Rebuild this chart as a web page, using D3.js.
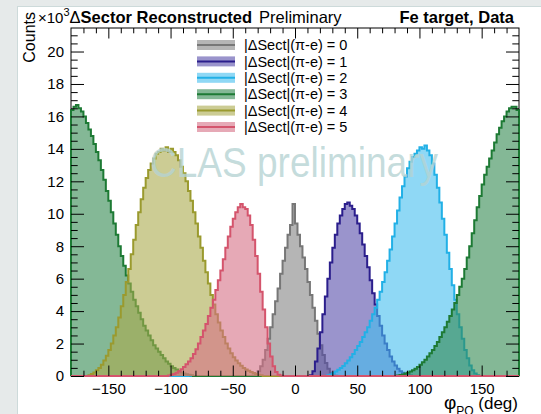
<!DOCTYPE html>
<style type="text/css">
body {
    margin: 0;
    background: #e6eaea;
}
svg text {
    font-family: 'Liberation Sans', Arial, sans-serif;
}
</style>

<body>
    <script src="https://d3js.org/d3.v7.min.js"></script>
    <script>
    // phi_PQ histograms, 2 deg bins, counts in 10^3
    var binWidth = 2
    var sectLabels = ['|ΔSect|(π-e) = 0', '|ΔSect|(π-e) = 1', '|ΔSect|(π-e) = 2', '|ΔSect|(π-e) = 3', '|ΔSect|(π-e) = 4', '|ΔSect|(π-e) = 5']
    var xTicks = [-150, -100, -50, 0, 50, 100, 150]
    var yTicks = [0, 2, 4, 6, 8, 10, 12, 14, 16, 18, 20]

    var sect0Start = -34
    var sect0 = [0.03, 0.1, 0.3, 0.6, 1.0, 1.6, 2.3, 3.0, 3.8, 4.6, 5.4, 6.3, 7.1, 7.9, 8.7, 9.3, 10.6, 9.4, 8.7, 8.0, 7.3, 6.6, 5.8, 5.0, 4.2, 3.4, 2.6, 1.9, 1.3, 0.8, 0.45, 0.2, 0.08, 0.03]
    var sect1Start = 12
    var sect1 = [0.05, 0.3, 0.9, 1.7, 2.7, 3.8, 4.9, 6.0, 7.0, 7.9, 8.7, 9.4, 9.9, 10.3, 10.6, 10.7, 10.5, 10.3, 9.9, 9.4, 8.8, 8.1, 7.4, 6.7, 5.9, 5.1, 4.4, 3.7, 3.1, 2.5, 2.0, 1.6, 1.2, 0.9, 0.65, 0.45, 0.3, 0.2, 0.12, 0.06, 0.03]
    var sect2Start = 26
    var sect2 = [0.04, 0.1, 0.18, 0.28, 0.38, 0.5, 0.62, 0.78, 0.95, 1.15, 1.35, 1.6, 1.85, 2.1, 2.4, 2.7, 3.0, 3.4, 3.8, 4.2, 4.7, 5.2, 5.8, 6.4, 7.1, 7.8, 8.6, 9.4, 10.2, 11.0, 11.7, 12.3, 12.8, 13.2, 13.5, 13.7, 13.9, 14.1, 14.0, 14.2, 13.9, 13.6, 13.1, 12.4, 11.6, 10.7, 9.7, 8.7, 7.6, 6.6, 5.6, 4.7, 3.8, 3.0, 2.3, 1.6, 1.1, 0.65, 0.35, 0.15, 0.05]
    var sect3LeftStart = -180
    var sect3Left = [16.4, 16.6, 16.7, 16.5, 16.3, 16.0, 15.6, 15.2, 14.8, 14.3, 13.8, 13.3, 12.7, 12.1, 11.4, 10.8, 10.1, 9.4, 8.7, 8.0, 7.4, 6.8, 6.2, 5.7, 5.2, 4.7, 4.3, 3.9, 3.5, 3.1, 2.8, 2.5, 2.2, 1.9, 1.7, 1.5, 1.3, 1.1, 0.9, 0.75, 0.6, 0.5, 0.4, 0.3, 0.22, 0.16, 0.11, 0.07, 0.04]
    var sect3RightStart = 82
    var sect3Right = [0.03, 0.06, 0.1, 0.15, 0.2, 0.28, 0.36, 0.45, 0.56, 0.7, 0.85, 1.0, 1.2, 1.4, 1.6, 1.85, 2.1, 2.4, 2.7, 3.0, 3.35, 3.7, 4.1, 4.5, 5.0, 5.5, 6.0, 6.6, 7.3, 8.0, 8.8, 9.6, 10.4, 11.1, 11.8, 12.4, 12.9, 13.4, 13.9, 14.4, 14.9, 15.3, 15.7, 16.0, 16.3, 16.5, 16.6, 16.6, 16.4]
    var sect4Start = -166
    var sect4 = [0.05, 0.12, 0.22, 0.35, 0.5, 0.7, 0.95, 1.25, 1.6, 2.0, 2.5, 3.0, 3.6, 4.3, 5.0, 5.8, 6.6, 7.5, 8.4, 9.3, 10.1, 10.9, 11.6, 12.2, 12.7, 13.1, 13.4, 13.7, 13.8, 14.0, 13.9, 14.1, 13.8, 14.0, 13.8, 13.6, 13.3, 12.9, 12.5, 12.0, 11.4, 10.8, 10.1, 9.4, 8.6, 7.9, 7.1, 6.4, 5.7, 5.0, 4.4, 3.8, 3.3, 2.8, 2.4, 2.0, 1.7, 1.4, 1.15, 0.95, 0.78, 0.63, 0.5, 0.4, 0.32, 0.25, 0.18, 0.12, 0.08, 0.04]
    var sect5Start = -102
    var sect5 = [0.03, 0.07, 0.12, 0.2, 0.3, 0.42, 0.56, 0.72, 0.9, 1.1, 1.35, 1.65, 2.0, 2.4, 2.8, 3.2, 3.7, 4.2, 4.7, 5.3, 5.9, 6.5, 7.2, 7.9, 8.6, 9.2, 9.7, 10.1, 10.4, 10.6, 10.4, 10.3, 9.9, 9.3, 8.4, 7.4, 6.3, 5.2, 4.1, 3.0, 2.0, 1.2, 0.6, 0.25, 0.08, 0.03]

    var lineColors = ['#777777', '#2b1e8c', '#22b0e6', '#1d7a34', '#9a9a2e', '#d4546c']
    var fillColors = ['#848484', '#574daa', '#44beee', '#328950', '#aaaa4d', '#d57085']

    function fullHist(segs) {
        var n = 360 / binWidth
        var arr = new Array(n).fill(0)
        segs.forEach(function(s) {
            s[1].forEach(function(v, j) { arr[(s[0] + 180) / binWidth + j] = v })
        })
        return arr
    }

    var hists = [
        fullHist([[sect0Start, sect0]]),
        fullHist([[sect1Start, sect1]]),
        fullHist([[sect2Start, sect2]]),
        fullHist([[sect3LeftStart, sect3Left], [sect3RightStart, sect3Right]]),
        fullHist([[sect4Start, sect4]]),
        fullHist([[sect5Start, sect5]])
    ]

    var width = 541, height = 414
    var x = d3.scaleLinear().domain([-180, 180]).range([71, 519])
    var y = d3.scaleLinear().domain([0, 21.45]).range([376, 28])

    var svg = d3.select('body').append('svg')
        .attr('width', width)
        .attr('height', height)
        .style('display', 'block')

    svg.append('rect').attr('width', width).attr('height', height).attr('fill', '#e6eaea')
    svg.append('rect').attr('x', 17.5).attr('y', 6.5).attr('width', width).attr('height', height)
        .attr('fill', '#fff').attr('stroke', '#cddada')

    svg.append('rect')
        .attr('x', x(-180)).attr('y', y.range()[1])
        .attr('width', x(180) - x(-180)).attr('height', y(0) - y.range()[1])
        .attr('fill', 'none').attr('stroke', '#000').attr('stroke-width', 1)

    function steps(arr) {
        var pts = [[-180, 0]]
        arr.forEach(function(v, i) {
            var e = -180 + i * binWidth
            pts.push([e, v], [e + binWidth, v])
        })
        pts.push([180, 0])
        return pts
    }

    var area = d3.area().x(d => x(d[0])).y0(y(0)).y1(d => y(d[1]))
    var line = d3.line().x(d => x(d[0])).y(d => y(d[1]))

    hists.forEach(function(h, i) {
        var pts = steps(h)
        svg.append('path').attr('d', area(pts))
            .attr('fill', fillColors[i]).attr('fill-opacity', 0.6)
        svg.append('path').attr('d', line(pts))
            .attr('fill', 'none').attr('stroke', lineColors[i]).attr('stroke-width', 2)
    })

    svg.append('text')
        .attr('x', 150).attr('y', 177)
        .attr('textLength', 288).attr('lengthAdjust', 'spacingAndGlyphs')
        .attr('font-size', 43)
        .attr('fill', '#b5d3d3').attr('fill-opacity', 0.78)
        .text('CLAS preliminary')

    // axes, ticks inward like ROOT
    var xMinor = d3.range(-170, 180, 10).filter(d => xTicks.indexOf(d) < 0)
    var yMinor = d3.range(0.5, 21.45, 0.5).filter(d => yTicks.indexOf(d) < 0)

    function noDomain(g) { g.select('.domain').remove() }

    svg.append('g').attr('transform', 'translate(0,' + y(0) + ')')
        .call(d3.axisBottom(x).tickValues(xTicks).tickSize(-10.5).tickPadding(7))
        .call(noDomain)
    svg.append('g').attr('transform', 'translate(0,' + y(0) + ')')
        .call(d3.axisBottom(x).tickValues(xMinor).tickSize(-5.3).tickFormat(''))
        .call(noDomain)
    svg.append('g').attr('transform', 'translate(0,' + y.range()[1] + ')')
        .call(d3.axisTop(x).tickValues(xTicks).tickSize(-10.5).tickFormat(''))
        .call(noDomain)
    svg.append('g').attr('transform', 'translate(0,' + y.range()[1] + ')')
        .call(d3.axisTop(x).tickValues(xMinor).tickSize(-5.3).tickFormat(''))
        .call(noDomain)

    svg.append('g').attr('transform', 'translate(' + x(-180) + ',0)')
        .call(d3.axisLeft(y).tickValues(yTicks).tickSize(-13).tickPadding(7))
        .call(noDomain)
    svg.append('g').attr('transform', 'translate(' + x(-180) + ',0)')
        .call(d3.axisLeft(y).tickValues(yMinor).tickSize(-6.7).tickFormat(''))
        .call(noDomain)
    svg.append('g').attr('transform', 'translate(' + x(180) + ',0)')
        .call(d3.axisRight(y).tickValues(yTicks).tickSize(-13).tickFormat(''))
        .call(noDomain)
    svg.append('g').attr('transform', 'translate(' + x(180) + ',0)')
        .call(d3.axisRight(y).tickValues(yMinor).tickSize(-6.7).tickFormat(''))
        .call(noDomain)

    svg.selectAll('.tick text')
        .attr('font-size', 15)
        .attr('font-family', "'Liberation Sans', Arial, sans-serif")
        .attr('fill', '#000')
    svg.selectAll('.tick line').attr('stroke', '#000')

    // titles
    var t = svg.append('text').attr('x', 38).attr('y', 23).attr('font-size', 16.5)
    t.append('tspan').attr('font-size', 15).text('×10')
    t.append('tspan').attr('font-size', 11).attr('dy', -7).text('3')
    t.append('tspan').attr('dy', 7).text('Δ')
    t.append('tspan').attr('font-weight', 'bold').text('Sector Reconstructed')
    t.append('tspan').attr('dx', 7).text('Preliminary')

    svg.append('text')
        .attr('x', 514).attr('y', 23)
        .attr('text-anchor', 'end')
        .attr('font-size', 16.5).attr('font-weight', 'bold')
        .text('Fe target, Data')

    svg.append('text')
        .attr('transform', 'translate(35,12) rotate(-90)')
        .attr('text-anchor', 'end')
        .attr('font-size', 16)
        .text('Counts')

    var xl = svg.append('text').attr('x', 518).attr('y', 409).attr('text-anchor', 'end').attr('font-size', 17)
    xl.append('tspan').attr('font-size', 19).text('φ')
    xl.append('tspan').attr('font-size', 12).attr('dy', 6).text('PQ')
    xl.append('tspan').attr('dy', -6).text(' (deg)')

    // legend
    var leg = svg.selectAll('.leg')
        .data(sectLabels)
        .enter()
        .append('g')
        .attr('class', 'leg')
        .attr('transform', (d, i) => 'translate(197,' + (45 + i * 16.4) + ')')
    leg.append('rect')
        .attr('x', 0).attr('y', -5).attr('width', 38).attr('height', 10)
        .attr('fill', (d, i) => fillColors[i]).attr('fill-opacity', 0.6)
    leg.append('line')
        .attr('x1', 0).attr('x2', 38)
        .attr('stroke', (d, i) => lineColors[i]).attr('stroke-width', 2)
    leg.append('text')
        .attr('x', 47).attr('dy', '0.36em')
        .attr('font-size', 14.5)
        .text(d => d)
    </script>
</body>
